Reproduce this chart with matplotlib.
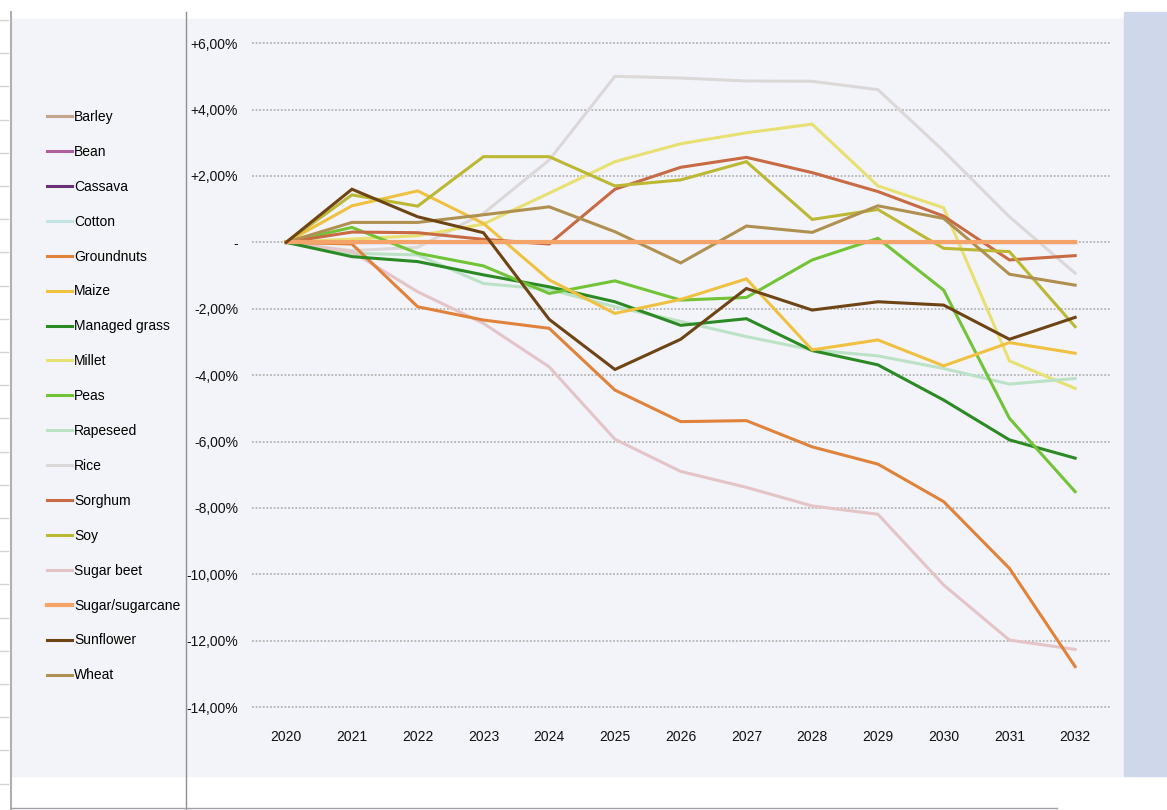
import matplotlib
matplotlib.use("Agg")
import matplotlib.pyplot as plt
from matplotlib.patches import Rectangle
from matplotlib.lines import Line2D

plt.rcParams['font.family'] = ['Liberation Sans', 'DejaVu Sans']

years = list(range(2020, 2033))

barley = [0] * 13
bean = [0] * 13
cassava = [0] * 13
cotton = [0] * 13
groundnuts = [0, -0.05, -1.94, -2.34, -2.59, -4.45, -5.4, -5.37, -6.16, -6.68, -7.81, -9.82, -12.78]
maize = [0, 1.1, 1.55, 0.57, -1.13, -2.14, -1.72, -1.1, -3.24, -2.94, -3.72, -3.02, -3.34]
managed_grass = [0, -0.43, -0.58, -0.98, -1.34, -1.79, -2.5, -2.3, -3.26, -3.69, -4.75, -5.95, -6.5]
millet = [0, 0.1, 0.2, 0.55, 1.48, 2.43, 2.97, 3.3, 3.56, 1.7, 1.04, -3.57, -4.4]
peas = [0, 0.45, -0.33, -0.71, -1.54, -1.16, -1.74, -1.66, -0.53, 0.12, -1.44, -5.3, -7.51]
rapeseed = [0, -0.33, -0.38, -1.24, -1.42, -1.94, -2.38, -2.84, -3.24, -3.42, -3.8, -4.27, -4.1]
rice = [0, -0.25, -0.15, 0.87, 2.48, 5.0, 4.95, 4.86, 4.85, 4.6, 2.75, 0.77, -0.93]
sorghum = [0, 0.31, 0.29, 0.09, -0.05, 1.6, 2.26, 2.56, 2.1, 1.53, 0.79, -0.53, -0.4]
soy = [0, 1.43, 1.09, 2.58, 2.58, 1.7, 1.88, 2.43, 0.69, 0.99, -0.18, -0.28, -2.54]
sugar_beet = [0, -0.28, -1.49, -2.44, -3.75, -5.93, -6.9, -7.38, -7.94, -8.19, -10.32, -11.98, -12.26]
sugarcane = [0] * 13
sunflower = [0, 1.6, 0.77, 0.29, -2.32, -3.83, -2.92, -1.39, -2.04, -1.79, -1.89, -2.92, -2.26]
wheat = [0, 0.6, 0.6, 0.83, 1.07, 0.32, -0.62, 0.49, 0.3, 1.1, 0.72, -0.96, -1.29]

series = [
    ("Barley", barley, "#c4a48c"),
    ("Bean", bean, "#b0609c"),
    ("Cassava", cassava, "#6a2f78"),
    ("Cotton", cotton, "#c4e4e4"),
    ("Groundnuts", groundnuts, "#e0823a"),
    ("Maize", maize, "#f0c040"),
    ("Managed grass", managed_grass, "#2c8a24"),
    ("Millet", millet, "#e8e070"),
    ("Peas", peas, "#72c436"),
    ("Rapeseed", rapeseed, "#bce2c6"),
    ("Rice", rice, "#dcd8d8"),
    ("Sorghum", sorghum, "#c86a44"),
    ("Soy", soy, "#bcb834"),
    ("Sugar beet", sugar_beet, "#e4c4c6"),
    ("Sugar/sugarcane", sugarcane, "#f4a468"),
    ("Sunflower", sunflower, "#6e4414"),
    ("Wheat", wheat, "#b09050"),
]

yticks = [6, 4, 2, 0, -2, -4, -6, -8, -10, -12, -14]
ytick_labels = ["+6,00%", "+4,00%", "+2,00%", "-", "-2,00%", "-4,00%", "-6,00%",
                "-8,00%", "-10,00%", "-12,00%", "-14,00%"]

W, H = 1167, 810
fig = plt.figure(figsize=(W / 100, H / 100), dpi=100)
fig.patch.set_facecolor("white")

# page decoration (pixel coords -> figure fraction)
def px(x0, y0, x1, y1):
    return (x0 / W, 1 - y1 / H, (x1 - x0) / W, (y1 - y0) / H)

x, y, w, h = px(11, 19, 1124, 776)
fig.add_artist(Rectangle((x, y), w, h, transform=fig.transFigure, color="#f2f4f9", zorder=0))
x, y, w, h = px(1124, 12, 1167, 776)
fig.add_artist(Rectangle((x, y), w, h, transform=fig.transFigure, color="#cfd8ea", zorder=0))
fig.add_artist(Line2D([11 / W, 11 / W], [0, 1 - 12 / H], transform=fig.transFigure, color="#b0b0b0", lw=1.5))
fig.add_artist(Line2D([186 / W, 186 / W], [0, 1 - 12 / H], transform=fig.transFigure, color="#909090", lw=1.0))
fig.add_artist(Line2D([11 / W, 1057 / W], [1 - 808 / H, 1 - 808 / H], transform=fig.transFigure, color="#a0a0a8", lw=1.0))
for k in range(24):
    yy = 1 - (20 + k * 33.2) / H
    fig.add_artist(Line2D([0, 8 / W], [yy, yy], transform=fig.transFigure, color="#d4d4d4", lw=1.0))

ax = fig.add_axes([252 / W, 1 - 717.1 / H, (1110 - 252) / W, (717.1 - 36.5) / H])
ax.set_facecolor("none")

handles = {}
draw_order = ["Barley", "Bean", "Cassava", "Cotton", "Rice", "Millet", "Rapeseed", "Sugar beet",
              "Groundnuts", "Managed grass", "Peas", "Maize", "Sorghum", "Soy", "Wheat",
              "Sugar/sugarcane", "Sunflower"]
lookup = {name: (vals, col) for name, vals, col in series}
for name in draw_order:
    vals, col = lookup[name]
    lw = 3.0 if name == "Sugar/sugarcane" else 2.2
    line, = ax.plot(years, vals, color=col, lw=lw, label=name, solid_joinstyle="miter")
    handles[name] = line

ax.set_xlim(2019.48, 2032.53)
ax.set_ylim(-14.3, 6.2)
ax.set_yticks(yticks)
ax.set_yticklabels(ytick_labels)
ax.set_xticks(years)
ax.set_xticklabels([str(v) for v in years])
ax.tick_params(length=0, labelsize=10, colors="#111111")
ax.tick_params(axis="y", pad=10)
ax.tick_params(axis="x", pad=9)
ax.grid(axis="y", linestyle=(0, (1, 1)), color="#b4b4b4", lw=1.3)
ax.set_axisbelow(True)
for s in ax.spines.values():
    s.set_visible(False)

leg = fig.legend([handles[n] for n, _, _ in series], [n for n, _, _ in series],
                 loc="upper left", bbox_to_anchor=(40 / W, 1 - 103 / H), frameon=False,
                 fontsize=10, handlelength=1.8, handletextpad=0.15, labelspacing=1.505,
                 borderpad=0)

fig.savefig("out.png", dpi=100, facecolor="white")
